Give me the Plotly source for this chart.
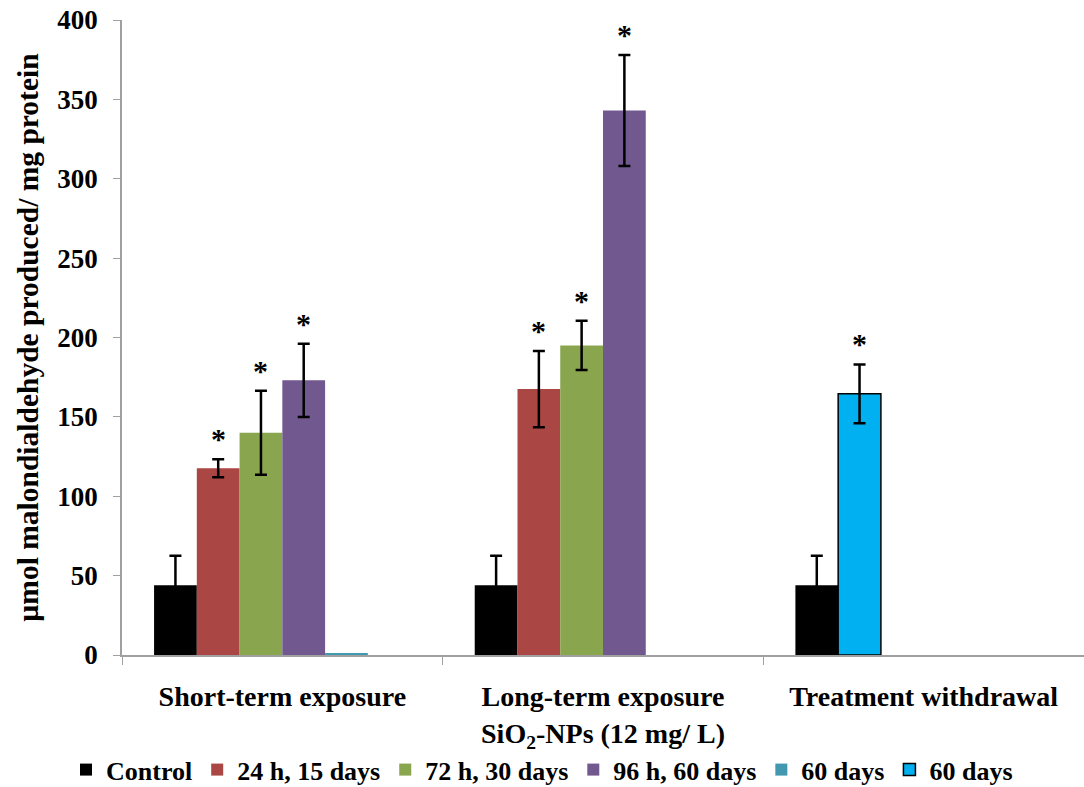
import plotly.graph_objects as go

categories = ["Short-term exposure",
              "Long-term exposure<br>SiO<sub>2</sub>-NPs (12 mg/ L)",
              "Treatment withdrawal"]

series_names = ["Control", "24 h, 15 days", "72 h, 30 days", "96 h, 60 days", "60 days", "60 days"]
control = [44, 44, 44]
control_err = [18.5, 18.5, 18.5]
h24_d15 = [117.6, 167.5, 164.5]   # third value is the withdrawal bar (drawn blue)
h24_d15_err = [5.7, 24, 18.5]
h72_d30 = [140, 195, None]
h72_d30_err = [26.5, 15.5, 0]
h96_d60 = [173, 343, None]
h96_d60_err = [23, 35, 0]
d60_teal = [1.2, None, None]
d60_blue = [None, None, None]

values = [control, h24_d15, h72_d30, h96_d60, d60_teal, d60_blue]
errors = [control_err, h24_d15_err, h72_d30_err, h96_d60_err, [0, 0, 0], [0, 0, 0]]
significant = [[False, False, False], [True, True, True], [True, True, False],
               [True, True, False], [False, False, False], [False, False, False]]

RED = "#AA4643"
BLUE = "#00B0F0"
colors = ["#000000", RED, "#89A54E", "#71588F", "#4198AF", BLUE]
FONT = "Liberation Serif"

fig = go.Figure()
for i, (name, vals, errs) in enumerate(zip(series_names, values, errors)):
    if i == 1:
        mcolor = [RED, RED, BLUE]
        lcolor = [RED, RED, "#000000"]
        lwidth = [0, 0, 1.5]
    elif i == 5:
        mcolor = BLUE
        lcolor = "#000000"
        lwidth = 1.5
    else:
        mcolor = colors[i]
        lcolor = colors[i]
        lwidth = 0
    has_err = any(e > 0 for e in errs)
    fig.add_trace(go.Bar(
        name=name, x=categories, y=vals,
        marker=dict(color=mcolor, line=dict(color=lcolor, width=lwidth)),
        error_y=dict(type="data", array=errs, visible=has_err, color="#000000",
                     thickness=2.5, width=6),
    ))

# significance asterisks placed above error bars
n = len(series_names)
bargap = 0.2
slot = (1 - bargap) / n
for i in range(n):
    for g in range(len(categories)):
        if significant[i][g] and values[i][g] is not None:
            fig.add_annotation(
                x=g + (i - (n - 1) / 2) * slot, xref="x",
                y=values[i][g] + errors[i][g], yref="y",
                text="*", showarrow=False, yanchor="bottom", yshift=2,
                font=dict(family=FONT, size=30, color="#000000", weight="bold"),
            )

fig.update_layout(
    width=1084, height=787,
    barmode="group", bargap=bargap, bargroupgap=0,
    plot_bgcolor="white", paper_bgcolor="white",
    margin=dict(l=122, r=0, t=20, b=132, autoexpand=False),
    font=dict(family=FONT, size=27, color="#000000", weight="bold"),
    legend=dict(orientation="h", xref="container", x=0.5, xanchor="center",
                yref="container", y=0.022, yanchor="middle",
                bgcolor="rgba(0,0,0,0)",
                font=dict(family=FONT, size=26, weight="bold"), itemwidth=30,
                traceorder="normal"),
    xaxis=dict(showline=True, linecolor="#A0A0A0", linewidth=1.5,
               ticks="outside", tickson="boundaries", ticklen=8, tickcolor="#A0A0A0",
               tickfont=dict(family=FONT, size=28, weight="bold"), showgrid=False,
               automargin=False, ticklabelstandoff=16),
    yaxis=dict(range=[0, 400], dtick=50, showline=True, linecolor="#A0A0A0", linewidth=1.5,
               ticks="outside", ticklen=7, tickcolor="#A0A0A0", showgrid=False,
               tickfont=dict(family=FONT, size=27, weight="bold"),
               automargin=False, ticklabelstandoff=10,
               title=dict(text="µmol malondialdehyde produced/ mg protein",
                          font=dict(family=FONT, size=29.5, weight="bold"), standoff=10),
               zeroline=False),
)

fig.write_html("out.html")
